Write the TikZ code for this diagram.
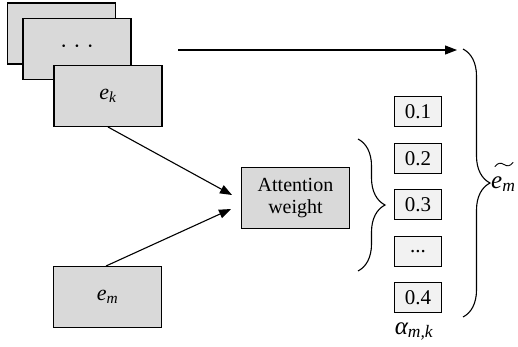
\documentclass[tikz,border=0pt]{standalone}
\usepackage{fontspec}
\setmainfont{Liberation Serif}
\usetikzlibrary{arrows.meta,decorations.pathreplacing}
\definecolor{boxgray}{RGB}{217,217,217}
\definecolor{lightbox}{RGB}{242,242,242}
\tikzset{
  bigbox/.style={draw=black, line width=1.3pt, fill=boxgray, minimum width=108pt, minimum height=61pt, inner sep=0pt},
  valbox/.style={draw=black, line width=1.1pt, fill=lightbox, minimum width=47pt, minimum height=30pt, inner sep=0pt, font=\fontsize{21}{22}\selectfont},
  conn/.style={line width=1.1pt, -{Triangle[length=12pt,width=9pt]}},
  bracestyle/.style={line width=1.1pt, decorate},
  vartext/.style={font=\fontsize{22}{24}\selectfont}
}
\begin{document}
\begin{tikzpicture}[x=1pt,y=-1pt]
\useasboundingbox (0,0) rectangle (518,346);
\node[bigbox] (b1) at (61.5,33.5) {};
\node[bigbox, vartext] (b2) at (77,49) {·\hspace{6pt}·\hspace{6pt}·};
\node[bigbox, vartext] (ek) at (108,96) {\itshape e\textsubscript{k}};
\node[bigbox, vartext] (em) at (107.5,297) {\itshape e\textsubscript{m}};
\node[bigbox, align=center, font=\fontsize{20}{22}\selectfont] (att) at (295.5,198) {Attention\\weight};
\node[valbox] (v1) at (418,111.5) {0.1};
\node[valbox] (v2) at (418,158.5) {0.2};
\node[valbox] (v3) at (418,204.5) {0.3};
\node[valbox] (v4) at (418,251.5) {...};
\node[valbox] (v5) at (418,297.5) {0.4};
\node[font=\fontsize{25}{28}\selectfont, anchor=base, inner sep=0pt] (alpha) at (414,334) {\itshape α\textsubscript{m,k}};
\node[font=\fontsize{25}{28}\selectfont, anchor=base west, inner sep=0pt] (etilde) at (491,188) {\itshape e\textsubscript{m}};
\draw[line width=0.9pt, line cap=round] (495,166.5) .. controls (498,162.5) and (501,162.5) .. (504,164.5) .. controls (507,166.5) and (510,166.5) .. (513,162.5);
\coordinate (t1) at (232,195);
\coordinate (t2) at (231,209);
\coordinate (s0) at (178,50);
\coordinate (t0) at (457,50);
\coordinate (ekout) at (108,127);
\coordinate (emout) at (106,266);
\draw[conn] (ekout) -- (t1);
\draw[conn] (emout) -- (t2);
\draw[conn] (s0) -- (t0);
\coordinate (br1a) at (358,139);
\coordinate (br1b) at (358,271);
\coordinate (br2a) at (463,49);
\coordinate (br2b) at (463,317);
\draw[bracestyle, decoration={brace, amplitude=27pt}] (br1a) -- (br1b);
\draw[bracestyle, decoration={brace, amplitude=27pt}] (br2a) -- (br2b);
\end{tikzpicture}
\end{document}
